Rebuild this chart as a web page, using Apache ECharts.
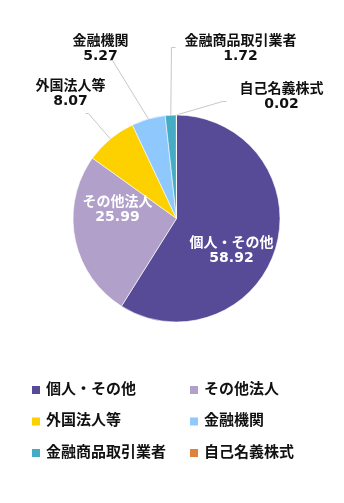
<!DOCTYPE html>
<html>
<head>
<meta charset="utf-8">
<script src="https://cdn.jsdelivr.net/npm/echarts@6/dist/echarts.min.js"></script>
<style>
  html, body { margin: 0; padding: 0; background: #fff; }
  #chart { width: 344px; height: 503px; }
</style>
</head>
<body>
<div id="chart"></div>
<script>
// Shareholder composition (%)
const categories = ['個人・その他', 'その他法人', '外国法人等', '金融機関', '金融商品取引業者', '自己名義株式'];
const shares = [58.92, 25.99, 8.07, 5.27, 1.72, 0.02];
const colors = ['#574b98', '#b1a0c9', '#fdd000', '#8fc8fd', '#46abc4', '#e0823b'];

const FONT = '"DejaVu Sans", "Noto Sans CJK JP", sans-serif';
const CX = 176.5, CY = 218.5, R = 103.5;

// Label anchor offsets from the pie centre; outside labels also get an elbow point for the leader line
const labelSpots = [
  { dx: 55, dy: 32, inside: true },
  { dx: -59, dy: -9, inside: true },
  { dx: -106, dy: -125, elbow: [-88, -105], end: [-91, -105] },
  { dx: -76, dy: -170, elbow: [-64, -158], end: [-67, -158] },
  { dx: 64, dy: -170, elbow: [-5, -171], end: [-1, -171] },
  { dx: 105, dy: -122, elbow: [46, -117], end: [50, -117] }
];

const chart = echarts.init(document.getElementById('chart'), null, { renderer: 'canvas' });

const data = categories.map((name, i) => ({
  name,
  value: shares[i],
  itemStyle: { color: colors[i] },
  label: labelSpots[i].inside ? { color: '#fff' } : { color: '#111' }
}));

const legendText = { fontFamily: FONT, fontSize: 15, fontWeight: 'bold', color: '#111', lineHeight: 16 };

chart.setOption({
  animation: false,
  backgroundColor: '#fff',
  legend: [
    {
      data: [categories[0], categories[2], categories[4]],
      orient: 'vertical', left: 25, top: 377,
      icon: 'rect', itemWidth: 10, itemHeight: 10, itemGap: 15.5,
      textStyle: legendText, selectedMode: false
    },
    {
      data: [categories[1], categories[3], categories[5]],
      orient: 'vertical', left: 183, top: 377,
      icon: 'rect', itemWidth: 10, itemHeight: 10, itemGap: 15.5,
      textStyle: legendText, selectedMode: false
    }
  ],
  series: [{
    type: 'pie',
    center: [CX, CY],
    radius: [0, R],
    startAngle: 90,
    clockwise: true,
    avoidLabelOverlap: false,
    itemStyle: { borderColor: '#fff', borderWidth: 0.6 },
    label: {
      show: true,
      position: 'outside',
      formatter: p => p.name + '\n' + p.value.toFixed(2),
      fontFamily: FONT,
      fontSize: 14,
      fontWeight: 'bold',
      lineHeight: 15,
      align: 'center'
    },
    labelLine: {
      show: true,
      length: 10,
      length2: 5,
      lineStyle: { color: '#c8c8c8', width: 1 }
    },
    labelLayout: function (params) {
      const s = labelSpots[params.dataIndex];
      const out = {
        x: CX + s.dx,
        y: CY + s.dy,
        align: 'center',
        verticalAlign: 'middle'
      };
      if (!s.inside && params.labelLinePoints) {
        const p0 = params.labelLinePoints[0];
        out.labelLinePoints = [
          p0,
          [CX + s.elbow[0], CY + s.elbow[1]],
          [CX + s.end[0], CY + s.end[1]]
        ];
      }
      return out;
    },
    data: data
  }]
});

// Inside labels have no leader lines
chart.setOption({
  series: [{
    data: data.map((d, i) => labelSpots[i].inside
      ? Object.assign({}, d, { labelLine: { show: false } })
      : d)
  }]
});
</script>
</body>
</html>
